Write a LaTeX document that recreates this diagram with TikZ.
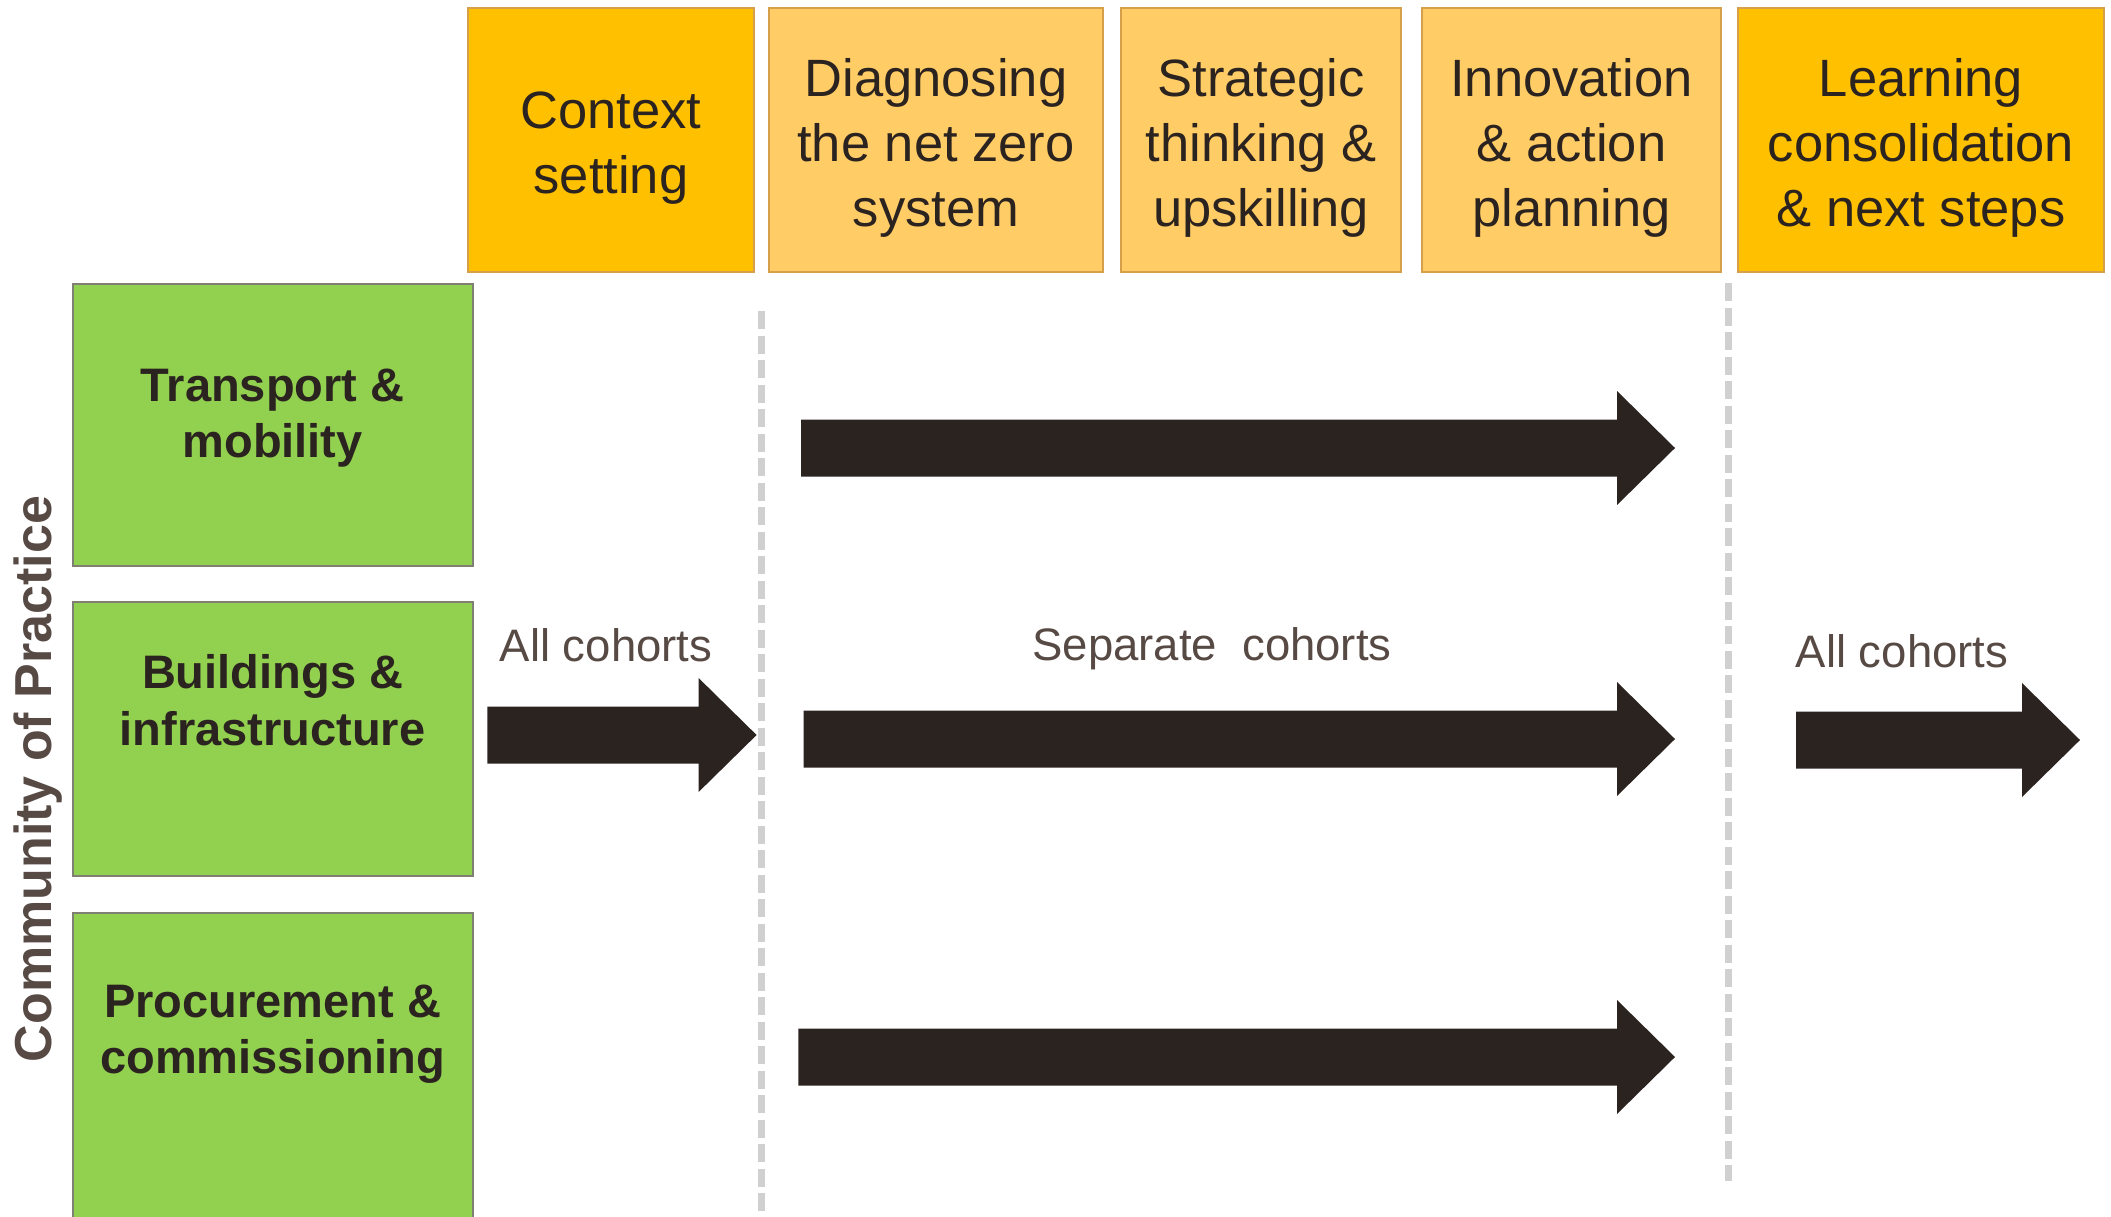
\documentclass[tikz,border=0pt]{standalone}
\usepackage{fontspec}
\setmainfont{Liberation Sans}
\definecolor{amber}{HTML}{FFC000}
\definecolor{paleamber}{HTML}{FFCC66}
\definecolor{amberline}{HTML}{D4A04A}
\definecolor{leaf}{HTML}{92D050}
\definecolor{leafline}{HTML}{807F74}
\definecolor{ink}{HTML}{2B2320}
\definecolor{mud}{HTML}{574A44}
\definecolor{divider}{HTML}{D0D0D0}

\begin{document}
\begin{tikzpicture}
  [x=1pt,y=-1pt,
   phase/.style={draw=amberline,line width=2pt,fill=paleamber,minimum height=264pt,inner sep=0pt},
   keyphase/.style={phase,fill=amber},
   phasetext/.style={text=ink,align=center,font=\fontsize{52.5}{64.6}\selectfont},
   stream/.style={draw=leafline,line width=2pt,fill=leaf,minimum width=400pt,inner sep=0pt},
   streamtext/.style={text=ink,align=center,font=\bfseries\fontsize{47}{56.5}\selectfont},
   cohorts/.style={text=mud,font=\fontsize{45.5}{54}\selectfont},
   divide/.style={draw=divider,line width=7pt,dash pattern=on 18pt off 6.5pt}]
  \useasboundingbox (0,0) rectangle (2111,1216);

  \node[keyphase,minimum width=285.5pt] (context) at (611,140) {};
  \node[phase,minimum width=334pt] (diagnose) at (936,140) {};
  \node[phase,minimum width=280.5pt] (strategy) at (1261,140) {};
  \node[phase,minimum width=299pt] (innovate) at (1571.5,140) {};
  \node[keyphase,minimum width=366pt] (learning) at (1921,140) {};
  \node[phasetext] (contextname) at (611,148) {Context\\setting};
  \node[phasetext] (diagnosename) at (936,148) {Diagnosing\\the net zero\\system};
  \node[phasetext] (strategyname) at (1261,148) {Strategic\\thinking \&\\upskilling};
  \node[phasetext] (innovatename) at (1571.5,148) {Innovation\\\& action\\planning};
  \node[phasetext] (learningname) at (1921,148) {Learning\\consolidation\\\& next steps};

  \node[stream,minimum height=281.5pt] (transport) at (272.6,424.75) {};
  \node[stream,minimum height=274pt] (buildings) at (272.6,739) {};
  \node[stream,minimum height=310pt] (procure) at (272.6,1068) {};
  \node[streamtext] (transportname) at (272.6,418) {Transport \&\\mobility};
  \node[streamtext] (buildingsname) at (272.6,700) {Buildings \&\\infrastructure};
  \node[streamtext] (procurename) at (272.6,1034) {Procurement \&\\commissioning};

  \node[rotate=90,text=mud,font=\bfseries\fontsize{52}{60}\selectfont] (community) at (37.7,779) {Community of Practice};

  \draw[divide] (761.3,311) -- (761.3,1216);
  \draw[divide] (1728.7,283) -- (1728.7,1181);

  \foreach \from/\to/\y in {801/1675/448,803.7/1675/739,798.4/1675/1057,487.4/756.6/735,1796/2080/740}
    \fill[ink] (\from,\y-28.5) -- (\to-58,\y-28.5) -- (\to-58,\y-57) -- (\to,\y)
      -- (\to-58,\y+57) -- (\to-58,\y+28.5) -- (\from,\y+28.5) -- cycle;

  \node[cohorts] (allfirst) at (606,645) {All cohorts};
  \node[cohorts] (separate) at (1212,649) {Separate~~cohorts};
  \node[cohorts] (alllast) at (1902,651) {All cohorts};

\end{tikzpicture}
\end{document}
